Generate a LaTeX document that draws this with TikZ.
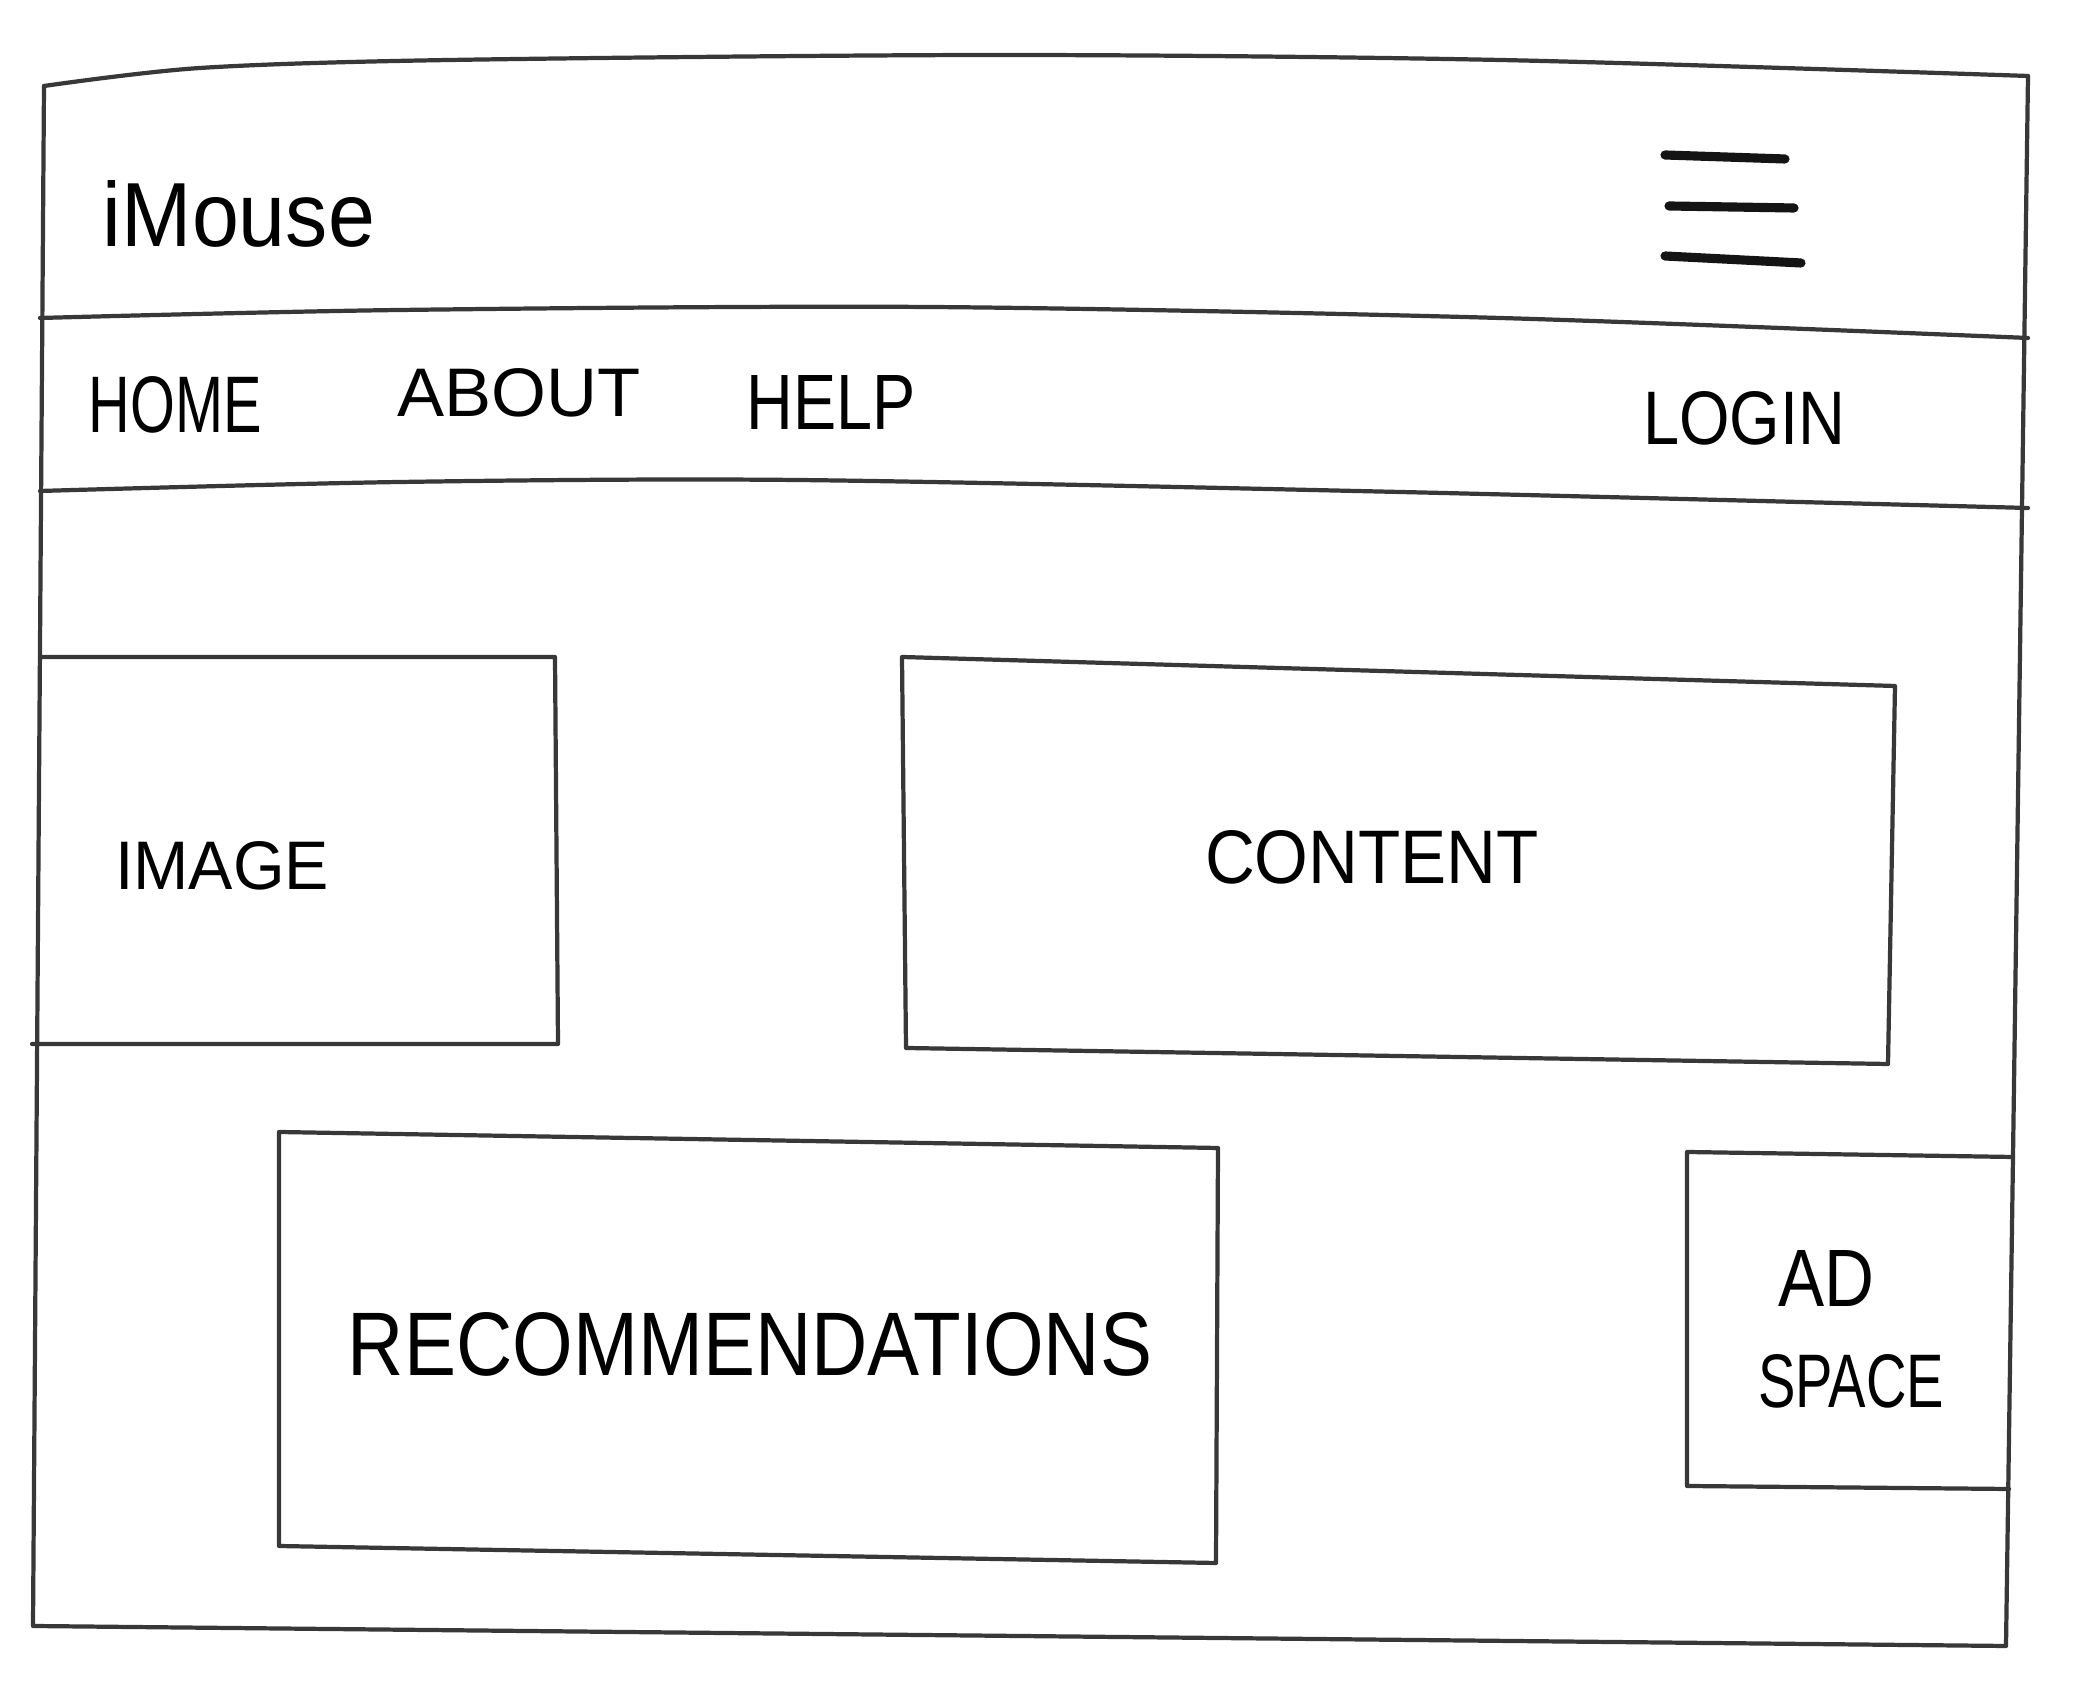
\documentclass[tikz,border=0pt]{standalone}
\usepackage{fontspec}
\setmainfont{Liberation Sans}
\usepackage{graphicx}
% text scaled to a given width and cap height (in mm)
\newcommand{\handtext}[3]{\resizebox{#1mm}{#2mm}{#3}}
\begin{document}
\begin{tikzpicture}[x=0.1mm,y=-0.1mm,
  pen/.style={draw=black!78, line width=1.2pt, line join=round, line cap=round},
  thickpen/.style={draw=black!92, line width=2.6pt, line cap=round},
  lbl/.style={inner sep=0pt, outer sep=0pt, text=black}]
\useasboundingbox[fill=white] (0,0) rectangle (2081,1700);

% page frame
\draw[pen] plot[smooth, tension=0.5] coordinates {(44,86) (200,68) (450,60) (1000,55) (1500,60) (2028,76)};
\draw[pen] (2028,76) -- (2013,1157) -- (2006,1646) -- (33,1626) -- (44,86);

% header separators
\draw[pen] plot[smooth, tension=0.5] coordinates {(40,318) (400,310) (929,307) (1500,318) (2028,338)};
\draw[pen] plot[smooth, tension=0.5] coordinates {(40,491) (400,482) (796,480) (1400,492) (2028,508)};

% menu icon
\draw[thickpen] (1665,155) -- (1785,159);
\draw[thickpen] (1669,206) -- (1794,208);
\draw[thickpen] (1665,256) -- (1801,263);

% image panel (its left side is the page frame)
\draw[pen] (40,657) -- (555,657) -- (558,1044) -- (32,1044);
% content panel
\draw[pen] (902,657) -- (1895,686) -- (1888,1064) -- (906,1048) -- cycle;
% recommendations panel
\draw[pen] (279,1132) -- (1218,1148) -- (1216,1563) -- (279,1546) -- cycle;
% ad panel (its right side is the page frame)
\draw[pen] (2013,1157) -- (1687,1152) -- (1687,1486) -- (2009,1489);

% labels
\node[lbl] (logo) at (239,214) {\handtext{27.2}{6.6}{iMouse}};
\node[lbl] (home) at (175,405) {\handtext{17.3}{5.6}{HOME}};
\node[lbl] (about) at (519,393) {\handtext{24.3}{4.8}{ABOUT}};
\node[lbl] (help) at (831,403) {\handtext{16.9}{5.4}{HELP}};
\node[lbl] (login) at (1744,418) {\handtext{20.2}{5.3}{LOGIN}};
\node[lbl] (image) at (222,866) {\handtext{21.4}{4.8}{IMAGE}};
\node[lbl] (content) at (1372,857) {\handtext{33.4}{5.3}{CONTENT}};
\node[lbl] (reco) at (750,1344) {\handtext{80.4}{6.3}{RECOMMENDATIONS}};
\node[lbl] (ad) at (1826,1279) {\handtext{9.6}{5.6}{AD}};
\node[lbl] (space) at (1851,1381) {\handtext{18.6}{5.3}{SPACE}};
\end{tikzpicture}
\end{document}
